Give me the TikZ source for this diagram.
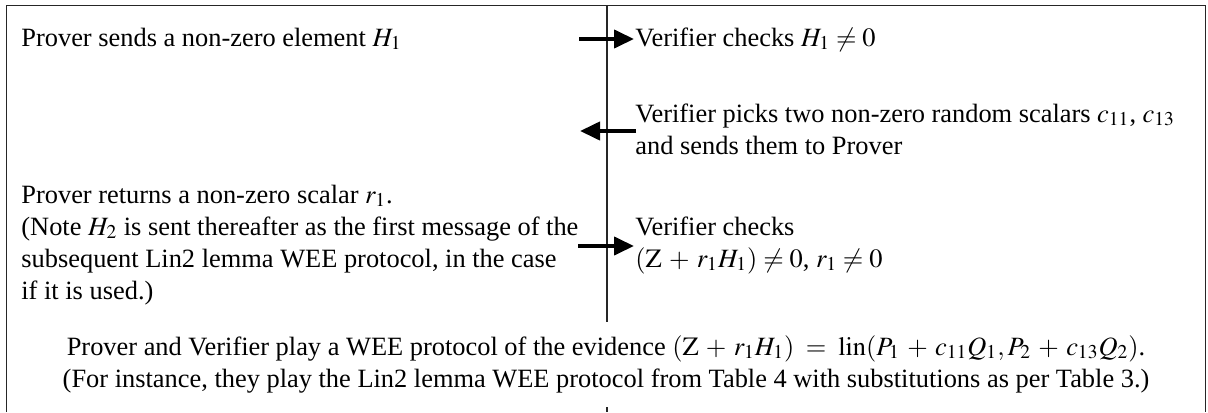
\documentclass[tikz,border=0pt]{standalone}
\usepackage{mathptmx}
\usepackage[no-math]{fontspec}
\setmainfont{Liberation Serif}
\usetikzlibrary{arrows.meta}
\begin{document}
% a little more room around binary operators
\medmuskip=5mu plus 2mu\relax
\begin{tikzpicture}[
  x=0.5pt, y=-0.5pt,
  frame/.style={line width=0.6pt, draw=black!85},
  msg/.style={line width=2pt, -{Triangle[length=10pt,width=9pt]}},
  body/.style={inner sep=0pt, font=\fontsize{13.2}{16}\selectfont},
  txt/.style={body, align=left, anchor=base west},
  mid/.style={body, align=center, anchor=base},
]
\useasboundingbox (0,0) rectangle (1208,412);

% outer frame, open at the bottom
\draw[frame] (6.5,412) -- (6.5,5.5) -- (1205.5,5.5) -- (1205.5,412);
% divider between Prover and Verifier
\coordinate (divtop) at (607,5.5);
\coordinate (divbot) at (607,322);
\coordinate (divtop2) at (607,407);
\coordinate (divbot2) at (607,412);
\draw[frame] (divtop) -- (divbot);
\draw[frame] (divtop2) -- (divbot2);

% prover column (multi-line nodes are placed by their last baseline)
\node[txt] (p1) at (21,46) {Prover sends a non-zero element $H_1$};
\node[txt] (p2) at (21,299) {Prover returns a non-zero scalar $r_1$.\\
(Note $H_2$ is sent thereafter as the first message of the\\
subsequent Lin2 lemma WEE protocol, in the case\\
if it is used.)};

% verifier column
\node[txt] (v1) at (635,46) {Verifier checks $H_1 \neq 0$};
\node[txt] (v2) at (635,154) {Verifier picks two non-zero random scalars $c_{11}$, $c_{13}$\\
and sends them to Prover};
\node[txt] (v3) at (635,267) {Verifier checks\\
$(\mathrm{Z} + r_1H_1) \neq 0$, $r_1 \neq 0$};

% joint sub-protocol
\node[mid] (wee) at (606,387) {Prover and Verifier play a WEE protocol of the evidence $(\mathrm{Z} + r_1H_1) \;=\; \mathrm{lin}(P_1 + c_{11}Q_1, P_2 + c_{13}Q_2)$.\\
(For instance, they play the Lin2 lemma WEE protocol from Table 4 with substitutions as per Table 3.)};

% messages
\coordinate (m1s) at (579,39);
\coordinate (m1e) at (634,39);
\coordinate (m2s) at (636,131);
\coordinate (m2e) at (580,131);
\coordinate (m3s) at (578,246);
\coordinate (m3e) at (634,246);
\draw[msg] (m1s) -- (m1e);
\draw[msg] (m2s) -- (m2e);
\draw[msg] (m3s) -- (m3e);
\end{tikzpicture}
\end{document}
